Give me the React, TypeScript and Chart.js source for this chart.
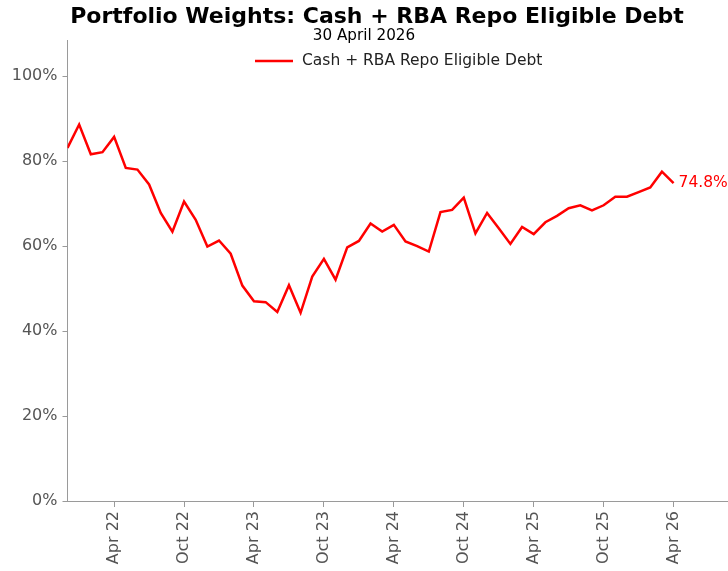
import React, { useEffect, useRef } from "react";
import { Chart, registerables } from "chart.js";

Chart.register(...registerables);

const TITLE = "Portfolio Weights: Cash + RBA Repo Eligible Debt";
const SUBTITLE = "30 April 2026";
const SERIES_NAME = "Cash + RBA Repo Eligible Debt";

// Monthly observations, Dec 2021 .. Apr 2026
const months: string[] = [];
(() => {
  const names = ["Jan", "Feb", "Mar", "Apr", "May", "Jun", "Jul", "Aug", "Sep", "Oct", "Nov", "Dec"];
  let m = 11, y = 21;
  for (let i = 0; i < 53; i++) {
    months.push(names[m] + " " + y);
    m++;
    if (m === 12) { m = 0; y++; }
  }
})();

const values: number[] = [
  83.1, 88.6, 81.6, 82.1, 85.7, 78.4, 78.0, 74.5, 67.8, 63.4,
  70.5, 66.2, 59.9, 61.3, 58.2, 50.7, 47.0, 46.8, 44.5, 50.8,
  44.3, 52.8, 57.0, 52.1, 59.7, 61.2, 65.3, 63.4, 65.0, 61.1,
  60.0, 58.7, 68.0, 68.5, 71.4, 63.0, 67.8, 64.2, 60.5, 64.5,
  62.8, 65.6, 67.1, 68.9, 69.6, 68.4, 69.6, 71.6, 71.6, 72.7,
  73.8, 77.5, 74.8,
];

const xTickLabels = ["Apr 22", "Oct 22", "Apr 23", "Oct 23", "Apr 24", "Oct 24", "Apr 25", "Oct 25", "Apr 26"];
const yTicks = [0, 20, 40, 60, 80, 100];

const FONT = "'DejaVu Sans', sans-serif";
const RED = "#ff0000";
const GRAY_TEXT = "#555555";
const AXIS = "#9a9a9a";

export default function App() {
  const ref = useRef<HTMLCanvasElement | null>(null);

  useEffect(() => {
    document.body.style.margin = "0";
    const canvas = ref.current!;
    const points = values.map((v, i) => ({ x: i, y: v }));
    const xTickIdx = xTickLabels.map((l) => months.indexOf(l));

    const overlay = {
      id: "overlay",
      afterDraw(chart: any) {
        const ctx = chart.ctx;
        ctx.save();
        ctx.fillStyle = "#000";
        ctx.textAlign = "center";
        ctx.textBaseline = "middle";
        ctx.font = "bold 22px " + FONT;
        ctx.fillText(TITLE, 377, 17);
        ctx.font = "15.2px " + FONT;
        ctx.fillText(SUBTITLE, 364, 36);
        // legend
        ctx.strokeStyle = RED;
        ctx.lineWidth = 2.5;
        ctx.beginPath();
        ctx.moveTo(255, 61);
        ctx.lineTo(293, 61);
        ctx.stroke();
        ctx.textAlign = "left";
        ctx.fillStyle = "#222";
        ctx.font = "15.5px " + FONT;
        ctx.fillText(SERIES_NAME, 302, 61);
        // end label
        const meta = chart.getDatasetMeta(0);
        const last = meta.data[meta.data.length - 1];
        ctx.fillStyle = RED;
        ctx.font = "15.5px " + FONT;
        ctx.fillText(values[values.length - 1].toFixed(1) + "%", last.x + 5, last.y);
        ctx.restore();
      },
    };

    const chart = new Chart(canvas, {
      type: "line",
      data: {
        datasets: [
          {
            label: SERIES_NAME,
            data: points,
            borderColor: RED,
            backgroundColor: RED,
            borderWidth: 2.5,
            pointRadius: 0,
            tension: 0,
          },
        ],
      },
      options: {
        animation: false,
        responsive: false,
        maintainAspectRatio: false,
        layout: { padding: { top: 40, right: 0, left: 0, bottom: 0 } },
        plugins: {
          legend: { display: false },
          title: { display: false },
          tooltip: { enabled: false },
        },
        scales: {
          x: {
            type: "linear",
            min: 0,
            max: 56.67,
            afterFit: (s: any) => { s.height = 70; },
            afterBuildTicks: (s: any) => { s.ticks = xTickIdx.map((v) => ({ value: v })); },
            grid: { drawOnChartArea: false, tickLength: 6, color: AXIS },
            border: { color: AXIS, width: 1 },
            ticks: {
              autoSkip: false,
              maxRotation: 90,
              minRotation: 90,
              padding: 4,
              color: GRAY_TEXT,
              font: { family: FONT, size: 16 },
              callback: (v: any) => months[Math.round(Number(v))],
            },
          },
          y: {
            min: 0,
            max: 108.5,
            afterFit: (s: any) => { s.width = 67.5; },
            afterBuildTicks: (s: any) => { s.ticks = yTicks.map((v) => ({ value: v })); },
            grid: { drawOnChartArea: false, tickLength: 5, color: AXIS },
            border: { color: AXIS, width: 1 },
            ticks: {
              padding: 5,
              color: GRAY_TEXT,
              font: { family: FONT, size: 16 },
              callback: (v: any) => v + "%",
            },
          },
        },
      },
      plugins: [overlay],
    });
    return () => chart.destroy();
  }, []);

  return (
    <div style={{ position: "absolute", left: 0, top: 0, width: 728, height: 571 }}>
      <canvas ref={ref} width={728} height={571} style={{ width: 728, height: 571, display: "block" }} />
    </div>
  );
}
